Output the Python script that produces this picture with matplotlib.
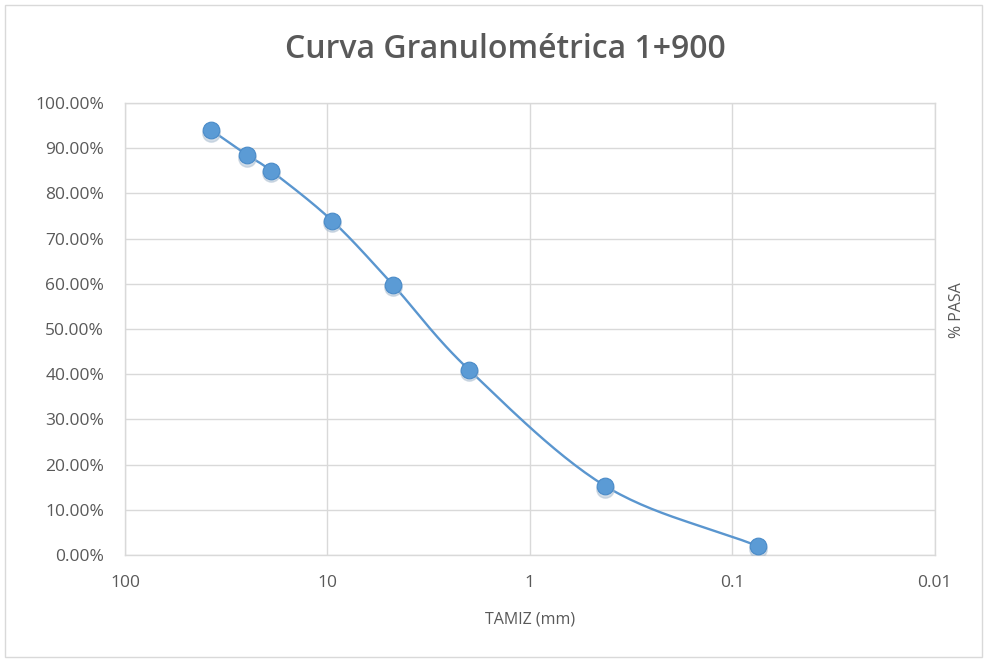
import numpy as np
import matplotlib.pyplot as plt
from matplotlib.patches import Rectangle
from matplotlib.ticker import FuncFormatter, FixedLocator

# sieve opening (mm) and percent passing
tamiz_mm = [37.5, 25.0, 19.0, 9.5, 4.75, 2.0, 0.425, 0.075]
pasa_pct = [94.0, 88.5, 85.0, 74.0, 59.8, 41.0, 15.3, 2.0]

x_ticks = [100, 10, 1, 0.1, 0.01]
x_tick_labels = ['100', '10', '1', '0.1', '0.01']
y_ticks = [0, 10, 20, 30, 40, 50, 60, 70, 80, 90, 100]

blue = '#5B9BD5'
grey_txt = '#595959'
grid_c = '#D9D9D9'

plt.rcParams['font.family'] = ['Open Sans', 'DejaVu Sans']


def smooth_curve(x, y, n=30):
    # Catmull-Rom in log-x space, similar to Excel "smoothed line"
    lx = np.log10(np.asarray(x, float))
    yy = np.asarray(y, float)
    px = np.concatenate([[2 * lx[0] - lx[1]], lx, [2 * lx[-1] - lx[-2]]])
    py = np.concatenate([[2 * yy[0] - yy[1]], yy, [2 * yy[-1] - yy[-2]]])
    ox, oy = [], []
    t = np.linspace(0, 1, n)
    for i in range(1, len(px) - 2):
        for p, o in ((px, ox), (py, oy)):
            p0, p1, p2, p3 = p[i - 1], p[i], p[i + 1], p[i + 2]
            seg = 0.5 * ((2 * p1) + (-p0 + p2) * t
                         + (2 * p0 - 5 * p1 + 4 * p2 - p3) * t ** 2
                         + (-p0 + 3 * p1 - 3 * p2 + p3) * t ** 3)
            o.extend(seg)
    return 10 ** np.array(ox), np.array(oy)


fig = plt.figure(figsize=(9.87, 6.6), dpi=100)
ax = fig.add_axes([0.1266, 0.159, 0.947 - 0.1266, 0.844 - 0.159])

fig.patches.append(Rectangle((5 / 987, 3 / 660), 977 / 987, 652 / 660,
                             transform=fig.transFigure, fill=False,
                             edgecolor='#D9D9D9', lw=1))

sx, sy = smooth_curve(tamiz_mm, pasa_pct)
ax.plot(sx, sy, color='#5A96CF', lw=1.7, zorder=3)
# marker shadow
ax.plot(tamiz_mm, np.array(pasa_pct) - 0.6, 'o', ms=12.5, color='#A9BDD0',
        alpha=0.5, zorder=3)
ax.plot(tamiz_mm, pasa_pct, 'o', ms=12, color=blue,
        markeredgecolor='#4A8BC8', markeredgewidth=0.8, zorder=4)

ax.set_xscale('log')
ax.set_xlim(100, 0.01)
ax.set_ylim(0, 100)
ax.xaxis.set_major_locator(FixedLocator(x_ticks))
ax.xaxis.set_minor_locator(FixedLocator([]))
ax.set_xticklabels(x_tick_labels)
ax.set_yticks(y_ticks)
ax.yaxis.set_major_formatter(FuncFormatter(lambda v, p: f'{v:.2f}%'))

ax.grid(True, color=grid_c, lw=1)
ax.set_axisbelow(True)
for s in ax.spines.values():
    s.set_color(grid_c)
    s.set_linewidth(1)
ax.tick_params(length=0, labelsize=12.5, colors=grey_txt)
ax.tick_params(axis='y', pad=15)
ax.tick_params(axis='x', pad=14)

fig.text(0.5 + 0.012, 0.925, 'Curva Granulométrica 1+900', ha='center',
         va='center', fontsize=23, fontweight='semibold', color=grey_txt)
fig.text(530 / 987, 1 - 620 / 660, 'TAMIZ (mm)', ha='center', va='center',
         fontsize=11.5, color=grey_txt)
fig.text(957 / 987, 1 - 310 / 660, '% PASA', ha='center', va='center',
         rotation=90, fontsize=11.5, color=grey_txt)

fig.savefig('out.png', dpi=100)
